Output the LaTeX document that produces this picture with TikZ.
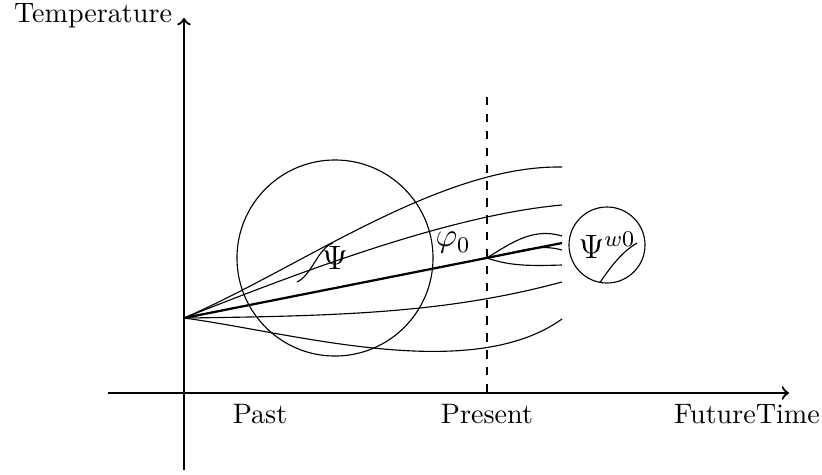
\documentclass[tikz,border=0pt]{standalone}
\usetikzlibrary{positioning}

\begin{document}
\begin{tikzpicture}[
    x=0.0125cm, y=-0.0125cm,
    axis/.style={draw, thick, ->},
    trajectory/.style={draw},
    mainTraj/.style={draw, thick},
    ball/.style={circle, draw, inner sep=0pt, font=\large},
    tLabel/.style={font=\normalsize}
]
    \useasboundingbox (0,0) rectangle (822,474);

    \coordinate (O) at (184,393);
    \coordinate (yBot) at (184,470);
    \coordinate (yTip) at (184,18);
    \coordinate (xBot) at (108,393);
    \coordinate (xTip) at (789,393);
    \coordinate (S) at (184,318);
    \coordinate (P) at (487,258);
    \coordinate (E) at (562,243);
    \coordinate (dTop) at (487,97);
    \coordinate (dBot) at (487,393);

    \path[axis] (yBot) -- (yTip);
    \path[axis] (xBot) -- (xTip);
    \node[tLabel, anchor=east] (temp) at (182,16) {Temperature};
    \node[tLabel] (past) at (260,414) {Past};
    \node[tLabel] (present) at (487,414) {Present};
    \node[tLabel] (future) at (747,414) {FutureTime};
    \draw[dashed] (dTop) -- (dBot);

    % regions
    \node[ball, minimum size=2.45cm] (Psi) at (335,258) {$\Psi$};
    \node[ball, minimum size=0.95cm] (PsiW) at (607,245) {$\Psi^{w0}$};
    \node[font=\large] (phi) at (453,243) {$\varphi_0$};

    % trajectories
    \path[mainTraj] (S) -- (E);
    \path[trajectory] (S) .. controls (300,268) and (440,165) .. (562,167);
    \path[trajectory] (S) .. controls (300,272) and (450,215) .. (562,205);
    \path[trajectory] (S) .. controls (350,316) and (450,312) .. (562,282);
    \path[trajectory] (S) .. controls (290,332) and (470,385) .. (562,319);
    \path[trajectory] (P) .. controls (515,240) and (535,228) .. (562,236);
    \path[trajectory] (P) .. controls (525,250) and (540,244) .. (562,250);
    \path[trajectory] (P) .. controls (510,266) and (530,266) .. (562,265);
    \path[trajectory] (297,282) .. controls (312,275) and (318,248) .. (333,243);
    \path[trajectory] (PsiW.-101) .. controls (612,265) and (622,252) .. (637,243);
\end{tikzpicture}
\end{document}
